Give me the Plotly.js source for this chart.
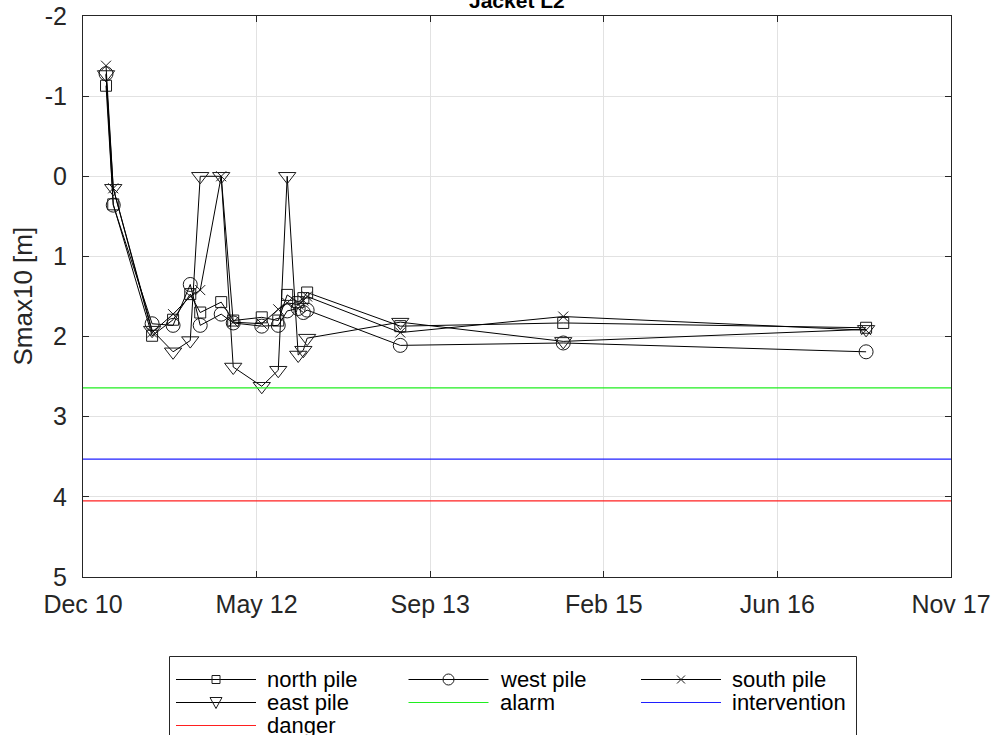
<!DOCTYPE html>
<html><head><meta charset="utf-8">
<script src="https://cdn.plot.ly/plotly-3.0.1.min.js"></script>
<style>html,body{margin:0;padding:0;background:#fff}#chart{width:999px;height:735px}</style>
</head><body><div id="chart"></div>
<script>
const dates = ['2011-02-20','2011-03-13','2011-07-04','2011-09-03','2011-10-23','2011-11-21','2012-01-21','2012-02-25','2012-05-18','2012-07-05','2012-07-31','2012-09-01','2012-09-16','2012-09-27','2013-06-25','2014-10-12','2017-03-11'];
const northPile = [-1.13,0.35,1.99,1.79,1.47,1.70,1.57,1.80,1.76,1.80,1.48,1.57,1.52,1.45,1.87,1.83,1.89];
const westPile  = [-1.28,0.36,1.84,1.86,1.35,1.86,1.72,1.83,1.87,1.86,1.68,1.65,1.70,1.67,2.11,2.08,2.19];
const southPile = [-1.38,0.15,1.95,1.72,1.50,1.42,0.00,1.82,1.84,1.66,1.58,1.60,1.55,1.50,1.95,1.75,1.92];
const eastPile  = [-1.27,0.15,1.92,2.19,2.05,0.00,0.00,2.38,2.62,2.42,0.00,2.23,2.17,2.02,1.82,2.06,1.91];
const alarmLevel = 2.64;
const interventionLevel = 3.53;
const dangerLevel = 4.05;
const xRange = ['2010-12-15','2017-11-13'];
const tickDates = ['2010-12-15','2012-05-03','2013-09-20','2015-02-07','2016-06-26','2017-11-13'];
const tickLabels = ['Dec 10','May 12','Sep 13','Feb 15','Jun 16','Nov 17'];
const yTicks = [-2,-1,0,1,2,3,4,5];
const yTickLabels = yTicks.map(String);
const seriesNames = ['north pile','west pile','south pile','east pile','alarm','intervention','danger'];

const FONT = 'Liberation Sans, Arial, Helvetica, sans-serif';
const AX = '#262626';
const MK = '#1a1a1a';
const styles = [
  {symbol:'square-open', size:11},
  {symbol:'circle-open', size:14},
  {symbol:'x-thin-open', size:10},
  {symbol:'triangle-down-open', size:15},
  {color:'#1fee1f'}, {color:'#1f1fff'}, {color:'#ff1f1f'}
];
function pile(i, y){
  return {x: dates, y: y, name: seriesNames[i], type:'scatter', mode:'lines+markers', showlegend:false,
    line:{color:'#000', width:1},
    marker:{symbol: styles[i].symbol, size: styles[i].size, color: MK, line:{color: MK, width:1}}};
}
function level(i, v){
  return {x: xRange, y: [v, v], name: seriesNames[i], type:'scatter', mode:'lines', showlegend:false,
    line:{color: styles[i].color, width:1.2}};
}
const data = [
  pile(0, northPile), pile(1, westPile), pile(2, southPile), pile(3, eastPile),
  level(4, alarmLevel), level(5, interventionLevel), level(6, dangerLevel)
];

// plot area in pixels
const M = {l:83, r:48, t:16, b:158};
const W = 999 - M.l - M.r, H = 735 - M.t - M.b;
const px = x => (x - M.l) / W;
const py = y => (735 - M.b - y) / H;

// MATLAB-style legend drawn as layout decoration
const shapes = [];
const annotations = [];
shapes.push({type:'rect', xref:'paper', yref:'paper', x0:px(169.5), x1:px(856.5), y0:py(656.5), y1:py(770),
  line:{color:AX, width:1}, fillcolor:'#fff', layer:'above'});
seriesNames.forEach((name, i) => {
  const col = i % 3, row = Math.floor(i / 3);
  const lx = 176 + col * 232.5, ly = 679.5 + row * 23;
  const color = styles[i].color || '#000';
  shapes.push({type:'line', xref:'paper', yref:'paper', x0:px(lx), x1:px(lx + 80), y0:py(ly), y1:py(ly),
    line:{color: color, width: 1}, layer:'above'});
  const cx = lx + 40;
  const mk = {xref:'paper', yref:'paper', line:{color:MK, width:1}, fillcolor:'rgba(0,0,0,0)', layer:'above'};
  if (i === 0) shapes.push(Object.assign({type:'rect', x0:px(cx-4), x1:px(cx+4), y0:py(ly-4), y1:py(ly+4)}, mk));
  if (i === 1) shapes.push(Object.assign({type:'circle', x0:px(cx-5.5), x1:px(cx+5.5), y0:py(ly-5.5), y1:py(ly+5.5)}, mk));
  if (i === 2) shapes.push(Object.assign({type:'path', path:
    `M${px(cx-4)},${py(ly-4)} L${px(cx+4)},${py(ly+4)} M${px(cx-4)},${py(ly+4)} L${px(cx+4)},${py(ly-4)}`}, mk));
  if (i === 3) shapes.push(Object.assign({type:'path', path:
    `M${px(cx-6)},${py(ly-5)} L${px(cx+6)},${py(ly-5)} L${px(cx)},${py(ly+6)} Z`}, mk));
  annotations.push({text: name, xref:'paper', yref:'paper', x:px(lx + 89), y:py(ly), xanchor:'left', yanchor:'middle',
    showarrow:false, font:{size:22, color:'#000', family: FONT}});
});
annotations.push({text:'<b>Jacket L2</b>', xref:'paper', yref:'paper', x:0.5, y:1, yanchor:'bottom', yshift:2,
  showarrow:false, font:{size:21, color:'#000', family: FONT}});
annotations.push({text:'Smax10 [m]', xref:'paper', yref:'paper', x:px(22), y:0.5, textangle:-90,
  xanchor:'center', yanchor:'middle', showarrow:false, font:{size:26, color: AX, family: FONT}});

const layout = {
  width: 999, height: 735, margin: M,
  paper_bgcolor:'#fff', plot_bgcolor:'#fff',
  font:{family: FONT, color: AX},
  showlegend: false,
  xaxis: {type:'date', range: xRange, tickvals: tickDates, ticktext: tickLabels,
    showgrid:true, gridcolor:'#e2e2e2', gridwidth:1, zeroline:false,
    showline:true, linecolor: AX, linewidth:1, mirror:'ticks', ticklabelstandoff: 5,
    ticks:'inside', ticklen:6, tickcolor: AX, tickfont:{size:25, color: AX, family: FONT}},
  yaxis: {range:[5,-2], tickvals: yTicks, ticktext: yTickLabels, showgrid:true, gridcolor:'#e2e2e2', gridwidth:1, zeroline:false,
    showline:true, linecolor: AX, linewidth:1, mirror:'ticks', ticklabelstandoff: 10,
    ticks:'inside', ticklen:6, tickcolor: AX, tickfont:{size:25, color: AX, family: FONT}},
  shapes: shapes,
  annotations: annotations
};
Plotly.newPlot('chart', data, layout, {displayModeBar:false, staticPlot:true});
</script></body></html>
